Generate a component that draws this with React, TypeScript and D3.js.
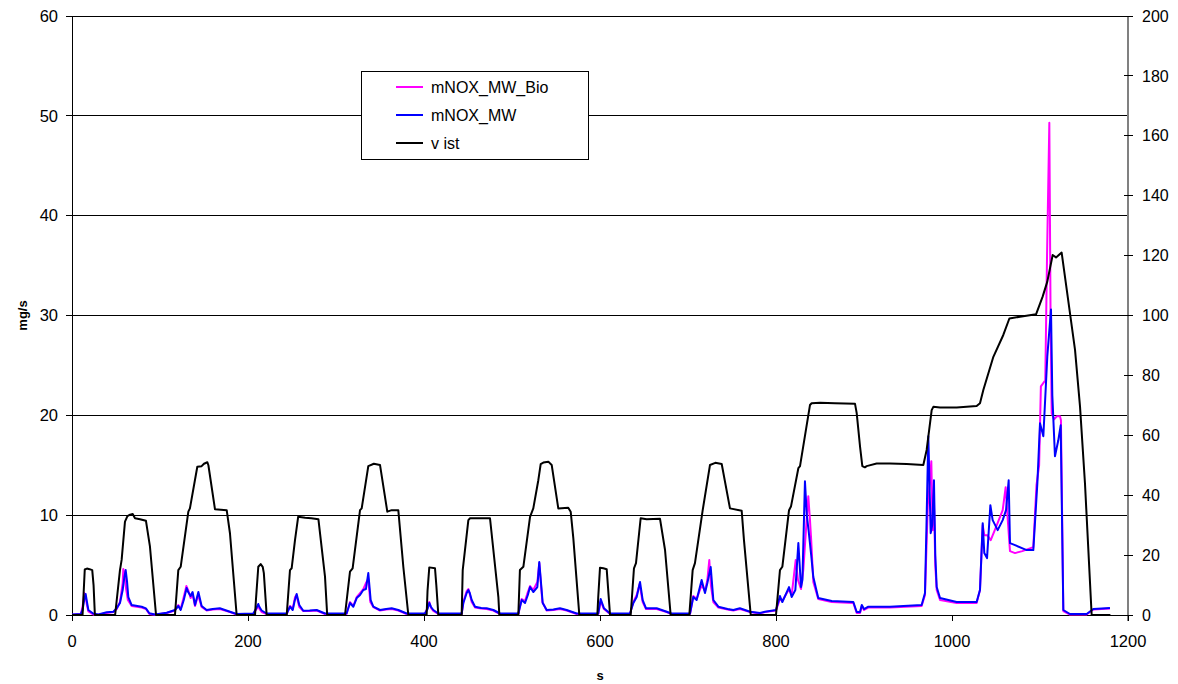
import React from "react";
import * as d3 from "d3";

// ---- data (time s, value) ----
const speedData: [number, number][] = [
  [0,0],[12,0],[13,6],[14.5,15.2],[17,15.5],[20,15.3],[23,15],[24.5,10],[26,0],
  [49,0],[54.5,15],[56.4,18.4],[60.2,31.2],[63,33],[66,33.5],[69,33.7],[71.6,32.3],[77.3,32],[84,31.5],[88.6,22.8],[95.5,0],
  [117,0],[120.8,15],[123.5,16.1],[132.2,34.5],[134,35.6],[142.4,49.5],[147.3,49.7],[150,50.5],[153.8,51],[155,50],[162.5,35.3],[175.8,35],[179.5,27.3],[187.1,0],
  [208,0],[209,5],[211.7,16.1],[214.4,17],[216.7,16.1],[218,14],[221.2,0],
  [244,0],[247.7,15],[249.6,15.6],[253.4,25],[257,32.8],[265,32.5],[272,32.3],[280,32],[287.5,12.8],[290,0],
  [310.2,0],[315.9,14.5],[318.9,15.6],[327.3,35],[329.2,35.6],[336.7,49.7],[343,50.5],[350,50.1],[358.3,34.5],[363.3,35],[370.8,35],[376.5,16.1],[382.2,0],
  [403,0],[404,8],[406,15.9],[412.5,15.6],[414,10],[416.3,0],
  [442.8,0],[444,15],[450.4,31.7],[452.3,32.3],[475,32.3],[484.5,6],[485.6,0],
  [507.2,0],[509,15],[512.9,16.1],[520.5,32.8],[524.2,35.6],[529.9,45],[532.6,50.4],[535.6,50.9],[541.3,51.2],[545.1,50.1],[552.6,35.6],[563.9,35.8],[566.7,34.5],[569.7,25.6],[576.5,0],
  [597,0],[598,6],[600,15.8],[603.8,15.6],[607.6,15.3],[611.4,0],
  [634.9,0],[638.6,15.6],[640.9,17.3],[646.2,32.3],[653,32],[668.2,32.1],[673.9,21.7],[680.3,0],
  [701.5,0],[705.3,15],[707.9,17.3],[716.7,35],[725,50.1],[731,50.8],[738.3,50.4],[747.7,35.6],[761,34.8],[763.6,25],[771.3,0],
  [800,0],[804.5,15],[807.2,16.1],[814.8,35],[817,36.2],[825.4,49],[827.3,49.7],[838.6,70.1],[840.5,70.7],[850,70.9],[867,70.7],[889.8,70.5],[891.7,67.4],[895.5,56.2],[898.1,49.7],[901,49.3],[903,49.7],[914.4,50.6],[929.5,50.6],[948.5,50.4],[967.4,50.1],[971.2,55.1],[976.9,68.4],[978.8,69.5],[986.4,69.3],[1005.3,69.3],[1028,69.8],[1031.8,70.7],[1035.6,75.1],[1047,86.2],[1058.3,93.5],[1065.2,99],[1077.3,99.6],[1095.5,100.4],[1103,106.3],[1108.3,111.3],[1114.4,120.2],[1118.2,119.4],[1124.6,121],[1139.8,88.5],[1145.5,69.5],[1151.1,44],[1158.7,0],[1180,0],
];

const noxMW: [number, number][] = [
  [0,0.05],[10,0.1],[12,0.5],[14,1.6],[15.5,2.1],[17,1.3],[18.6,0.5],[24,0.15],[30,0.05],[39.4,0.27],[47,0.33],[50.8,0.67],[54.5,1.2],[57.6,2.5],[59.5,3.8],[61,4.5],[62.5,3.4],[64,1.8],[67.8,1.0],[79.2,0.83],[84,0.67],[87.9,0.17],[94.3,0.05],[107.6,0.23],[117,0.5],[120.8,0.9],[123.5,0.5],[127,1.5],[130.3,2.7],[132,2.3],[134.8,1.9],[137,2.3],[139.8,1.0],[143.6,2.3],[147.3,0.9],[153,0.5],[160,0.6],[168,0.67],[179.5,0.33],[187,0.1],
  [206,0.15],[209,0.6],[211.7,1.1],[213,0.8],[215.5,0.45],[221.2,0.15],[244,0.15],[247.7,0.83],[250.8,0.5],[253,1.4],[255.3,2.1],[258.3,1.0],[262.8,0.43],[270,0.45],[278,0.5],[287.5,0.15],[312,0.15],[315.9,1.2],[319.7,0.83],[323.5,1.7],[327.3,2.0],[331,2.5],[334,2.6],[336.7,4.2],[339.4,1.5],[342.4,0.83],[350,0.5],[357,0.6],[363.3,0.67],[370.8,0.5],[380.3,0.15],
  [401,0.15],[404,0.6],[406,1.2],[408,0.8],[410.6,0.5],[416.3,0.15],[442.8,0.15],[444.7,1.2],[448.5,2.2],[450.4,2.5],[452,2.2],[454.2,1.5],[458,0.83],[465,0.7],[471.2,0.67],[478.8,0.5],[486.4,0.15],[507.2,0.15],[511,1.5],[514.8,1.2],[518,2.0],[520.5,2.8],[524.2,2.3],[528.8,2.8],[531,5.3],[534.9,1.2],[539.4,0.5],[547,0.55],[554.5,0.67],[562.1,0.5],[573.5,0.15],
  [598,0.15],[600.8,1.6],[604.5,0.67],[611.4,0.15],[634,0.15],[637.9,1.2],[641.7,1.8],[645.5,3.3],[648.5,1.5],[652.3,0.67],[664.4,0.67],[675.8,0.33],[681,0.15],[702.3,0.15],[706,1.8],[709.8,1.5],[715.5,3.5],[719.3,2.2],[722,3.2],[725.8,4.8],[728.8,1.5],[734.5,0.83],[745,0.6],[751.5,0.5],[759,0.67],[770.5,0.33],[781.8,0.2],
  [787.5,0.33],[800,0.5],[804.5,1.9],[807.2,1.3],[814.8,2.8],[817.8,1.8],[822,2.5],[825.4,7.2],[828.4,2.8],[830,3.5],[832.9,13.4],[835,10],[837,8.5],[840,6],[842.4,3.8],[848,1.7],[863.3,1.4],[887.9,1.3],[891.7,0.3],[895.5,0.3],[897.5,1.0],[900,0.6],[904.9,0.83],[929.5,0.83],[965.5,1.0],[969.3,2.2],[971,9],[973.1,17.9],[975.8,8.2],[977.5,9],[979.5,13.5],[981,6],[982.6,2.8],[986.4,1.7],[1005.3,1.3],[1028,1.3],
  [1031.8,2.5],[1034.9,9.2],[1036.7,6.2],[1039.8,5.7],[1043.6,11.0],[1046.2,9.5],[1051.9,8.5],[1057.6,9.5],[1061.4,10.5],[1064.4,13.5],[1065.9,7.2],[1071.6,7.0],[1084.9,6.5],[1092.4,6.5],[1097,13.2],[1100,19.2],[1103.8,17.9],[1108.3,25.9],[1112.5,30.6],[1114,22],[1117,15.9],[1120.8,17.5],[1123.5,19.0],[1126.5,0.5],[1134,0.1],[1153,0.1],[1160.6,0.6],[1179.5,0.7],
];

const noxMWBio: [number, number][] = [
  [0,0.02],[10,0.1],[12,0.8],[14,2.2],[15.5,1.8],[17,1.0],[18.6,0.35],[24,0.05],[30,0.02],[39.4,0.2],[47,0.3],[50.8,0.6],[54.5,1.3],[57.6,3.2],[58.3,4.6],[60,4.1],[61.5,2.6],[63.5,1.5],[67.8,0.9],[79.2,0.75],[84,0.6],[87.9,0.1],[94.3,0.02],[107.6,0.2],[117,0.45],[120.8,1.0],[123.5,0.6],[127,1.8],[130,2.9],[132,2.5],[134.8,1.7],[137,2.1],[139.8,0.9],[143.3,2.0],[147.3,0.8],[153,0.45],[160,0.55],[168,0.6],[179.5,0.3],[187,0.05],
  [206,0.1],[209,0.5],[211.7,0.9],[213,0.6],[215.5,0.3],[221.2,0.1],[244,0.1],[247.7,0.9],[250.8,0.6],[253.5,1.8],[255,2.0],[258.3,0.8],[262.8,0.4],[270,0.4],[278,0.45],[287.5,0.1],[312,0.1],[315.9,1.3],[319.7,0.9],[323.5,1.8],[327.3,2.2],[331,2.6],[334,3.2],[336.7,3.6],[339,1.3],[342.4,0.8],[350,0.45],[357,0.55],[363.3,0.6],[370.8,0.45],[380.3,0.1],
  [401,0.1],[404,0.7],[406,1.3],[408,0.7],[410.6,0.4],[416.3,0.1],[442.8,0.1],[444.7,1.3],[448.5,2.4],[450.4,2.6],[452,2.1],[454.2,1.3],[458,0.75],[465,0.65],[471.2,0.6],[478.8,0.45],[486.4,0.1],[507.2,0.1],[511,1.6],[514.8,1.4],[518,2.3],[520.5,2.9],[524.2,2.5],[528.8,3.3],[531,5.2],[534.5,1.3],[539.4,0.45],[547,0.5],[554.5,0.6],[562.1,0.45],[573.5,0.1],
  [598,0.1],[600.8,1.4],[604.5,0.6],[611.4,0.1],[634,0.1],[637.9,1.3],[641.7,2.0],[645,3.1],[648.5,1.3],[652.3,0.6],[664.4,0.6],[675.8,0.3],[681,0.1],[702.3,0.1],[706,1.9],[709.8,1.6],[715.5,3.0],[719.3,2.4],[722,3.5],[724.2,5.5],[726,3.0],[728.8,1.3],[734.5,0.75],[745,0.55],[751.5,0.45],[759,0.6],[770.5,0.3],[781.8,0.15],
  [787.5,0.3],[800,0.45],[804.5,1.6],[807.2,1.4],[814.8,2.6],[817.8,2.0],[822.4,5.5],[825,3.5],[828.4,2.6],[831,4.5],[834.8,9.5],[836.7,11.9],[838.6,9.5],[840,7.5],[842.4,3.3],[848,1.6],[863.3,1.3],[887.9,1.2],[891.7,0.2],[895.5,0.2],[897.5,0.9],[900,0.5],[904.9,0.75],[929.5,0.75],[965.5,0.9],[969.3,2.0],[972.5,11],[974.5,13],[976.5,15.4],[978,8.5],[979.5,11.5],[981,5],[982.6,2.5],[986.4,1.5],[1005.3,1.2],[1028,1.2],
  [1031.8,2.5],[1034.9,9.0],[1036.7,8.0],[1040,8.0],[1044,7.5],[1050,8.8],[1057.6,10.5],[1061,12.8],[1063,10],[1065.9,6.4],[1071.6,6.2],[1080,6.4],[1092.4,6.8],[1096,13],[1099,15],[1101,22.9],[1106,23.5],[1108,36],[1110.6,49.3],[1112,30],[1113.3,20.2],[1116,19.6],[1119,19.9],[1122.7,19.9],[1123.8,19.5],[1126.5,0.4],[1134,0.05],[1153,0.05],[1160.6,0.55],[1179.5,0.65],
];

const xTicks = [0, 200, 400, 600, 800, 1000, 1200];
const yLeftTicks = [0, 10, 20, 30, 40, 50, 60];
const yRightTicks = [0, 20, 40, 60, 80, 100, 120, 140, 160, 180, 200];
const legendItems = [
  { label: "mNOX_MW_Bio", color: "#ff00ff" },
  { label: "mNOX_MW", color: "#0000ff" },
  { label: "v ist", color: "#000000" },
];

const W = 1178, H = 684;
const L = 72, R = 1128, T = 16, B = 615;
const FONT = "Arial, 'Liberation Sans', sans-serif";

export default function App() {
  const x = d3.scaleLinear().domain([0, 1200]).range([L, R]);
  const yL = d3.scaleLinear().domain([0, 60]).range([B, T]);
  const yR = d3.scaleLinear().domain([0, 200]).range([B, T]);

  const lineL = d3.line<[number, number]>().x(d => x(d[0])).y(d => yL(d[1]));
  const lineR = d3.line<[number, number]>().x(d => x(d[0])).y(d => yR(d[1]));

  return (
    <svg width={W} height={H} style={{ position: "absolute", left: 0, top: 0, background: "#fff" }} fontFamily={FONT}>
      <rect x={0} y={0} width={W} height={H} fill="#fff" />
      {/* gridlines */}
      {yLeftTicks.filter(v => v > 0).map(v => (
        <line key={"g" + v} x1={L} x2={R} y1={yL(v)} y2={yL(v)} stroke="#000" strokeWidth={1} shapeRendering="crispEdges" />
      ))}
      {/* left axis */}
      <line x1={L} x2={L} y1={T} y2={B} stroke="#000" strokeWidth={1} shapeRendering="crispEdges" />
      {yLeftTicks.map(v => (
        <g key={"yl" + v}>
          <line x1={L - 6} x2={L} y1={yL(v)} y2={yL(v)} stroke="#000" shapeRendering="crispEdges" />
          <text x={L - 14} y={yL(v)} dy="0.35em" textAnchor="end" fontSize={16.5} fill="#000">{v}</text>
        </g>
      ))}
      {/* right axis */}
      <line x1={R} x2={R} y1={T} y2={B + 6} stroke="#808080" strokeWidth={2} />
      {yRightTicks.map(v => (
        <g key={"yr" + v}>
          <line x1={R - 4} x2={R + 5} y1={yR(v)} y2={yR(v)} stroke="#000" shapeRendering="crispEdges" />
          <text x={R + 14} y={yR(v)} dy="0.35em" textAnchor="start" fontSize={16} fill="#000">{v}</text>
        </g>
      ))}
      {/* bottom axis */}
      <line x1={L} x2={R} y1={B} y2={B} stroke="#000" strokeWidth={1} shapeRendering="crispEdges" />
      {xTicks.map(v => (
        <g key={"x" + v}>
          <line x1={x(v)} x2={x(v)} y1={B} y2={B + 6} stroke="#000" shapeRendering="crispEdges" />
          <text x={x(v)} y={B + 26} dy="0.35em" textAnchor="middle" fontSize={16.5} fill="#000">{v}</text>
        </g>
      ))}
      {/* axis titles */}
      <text transform={`translate(22,${(T + B) / 2}) rotate(-90)`} textAnchor="middle" fontSize={13} fontWeight="bold" dy="0.35em">mg/s</text>
      <text x={x(600)} y={675} textAnchor="middle" fontSize={13} fontWeight="bold" dy="0.35em">s</text>

      {/* series */}
      <path d={lineL(noxMWBio) || ""} fill="none" stroke="#ff00ff" strokeWidth={2} strokeLinejoin="round" />
      <path d={lineL(noxMW) || ""} fill="none" stroke="#0000ff" strokeWidth={2} strokeLinejoin="round" />
      <path d={lineR(speedData) || ""} fill="none" stroke="#000" strokeWidth={2} strokeLinejoin="round" />

      {/* legend */}
      <rect x={361.5} y={71.5} width={227} height={88} fill="#fff" stroke="#000" strokeWidth={1} />
      {legendItems.map((it, i) => (
        <g key={it.label}>
          <line x1={396} x2={423} y1={87 + i * 28} y2={87 + i * 28} stroke={it.color} strokeWidth={2} />
          <text x={431} y={87 + i * 28} dy="0.35em" fontSize={16} fill="#000">{it.label}</text>
        </g>
      ))}
    </svg>
  );
}
